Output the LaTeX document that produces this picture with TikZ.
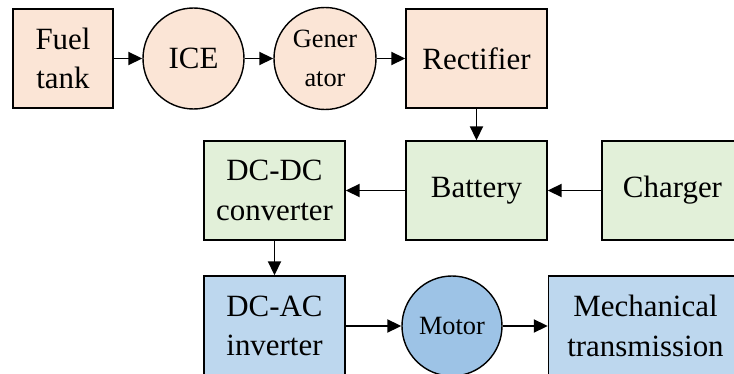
\documentclass[tikz,border=0pt]{standalone}
\usepackage{fontspec}
\setmainfont{Liberation Serif}
\usetikzlibrary{arrows.meta,positioning}
\definecolor{peach}{RGB}{251,229,214}
\definecolor{leaf}{RGB}{226,240,217}
\definecolor{sky}{RGB}{189,215,238}
\definecolor{deepsky}{RGB}{157,195,230}

\begin{document}
\begin{tikzpicture}[
    blk/.style={draw,line width=0.8pt,minimum width=2.82cm,minimum height=1.98cm,inner sep=0pt,align=center,font=\fontsize{17.6}{22.6}\selectfont},
    rnd/.style={blk,circle,minimum size=2.02cm},
    small/.style={font=\fontsize{15}{22}\selectfont},
    link/.style={-{Triangle[length=0.28cm,width=0.26cm]},line width=1.1pt}
  ]
        \useasboundingbox (0,0) rectangle (14.68,-7.48);
        \clip (0,0) rectangle (14.68,-7.48);
        % upper row
        \node[blk,fill=peach,minimum width=2cm] (tank) at (1.26,-1.17) {Fuel\\tank};
        \node[rnd,fill=peach] (ice) at (3.87,-1.17) {ICE};
        \node[rnd,fill=peach,small,minimum size=2.04cm] (gen) at (6.5,-1.17) {Gener\\ator};
        \node[blk,fill=peach] (rect) at (9.53,-1.17) {Rectifier};
        % middle row
        \node[blk,fill=leaf] (batt) at (9.53,-3.81) {Battery};
        \node[blk,fill=leaf] (chg) at (13.45,-3.81) {Charger};
        \node[blk,fill=leaf] (dcdc) at (5.49,-3.81) {DC-DC\\converter};
        % lower row
        \node[blk,fill=sky,minimum height=2cm] (dcac) at (5.49,-6.52) {DC-AC\\inverter};
        \node[rnd,fill=deepsky,small,minimum size=2cm] (motor) at (9.04,-6.52) {Motor};
        \node[blk,fill=sky,minimum width=3.88cm,minimum height=2cm] (mech) at (12.91,-6.52) {Mechanical\\transmission};
        % flow
        \draw[link] (tank) -- (ice);
        \draw[link] (ice) -- (gen);
        \draw[link] (gen) -- (rect);
        \draw[link] (rect) -- (batt);
        \draw[link] (chg) -- (batt);
        \draw[link] (batt) -- (dcdc);
        \draw[link] (dcdc) -- (dcac);
        \draw[link] (dcac.east |- motor) -- (motor);
        \draw[link] (motor) -- (mech.west |- motor);
      \end{tikzpicture}
\end{document}
